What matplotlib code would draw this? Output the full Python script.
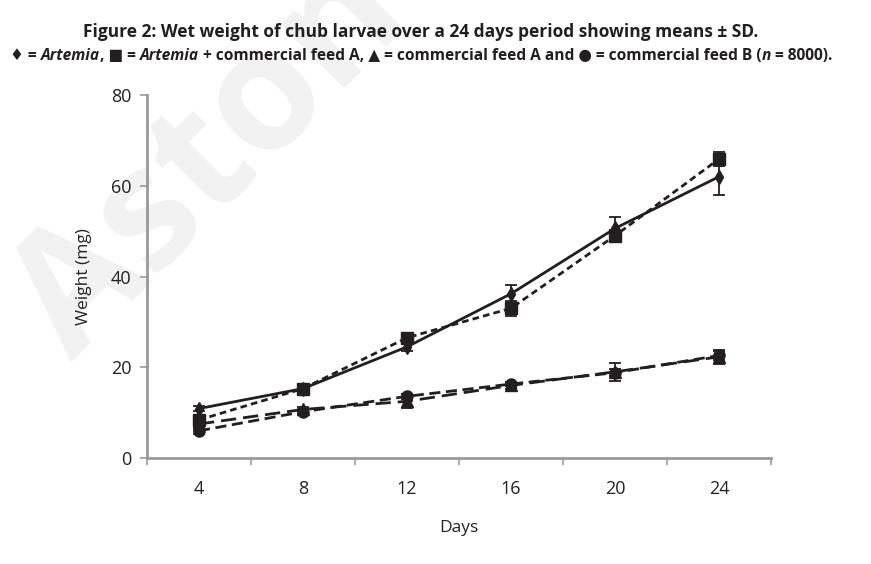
import matplotlib
matplotlib.use("Agg")
import matplotlib.pyplot as plt

days = ["4", "8", "12", "16", "20", "24"]
artemia = [10.9, 15.3, 24.5, 36.2, 50.6, 62.0]
artemia_sd = [0.5, 0.5, 1.0, 2.0, 2.6, 4.0]
artemia_a = [8.4, 15.3, 26.5, 33.0, 49.0, 65.9]
artemia_a_sd = [0.8, 0.5, 0.8, 1.6, 1.2, 1.5]
feed_a = [7.5, 10.7, 12.5, 16.0, 19.0, 22.3]
feed_a_sd = [0.8, 0.6, 1.5, 0.8, 2.0, 1.5]
feed_b = [6.0, 10.2, 13.6, 16.3, 18.8, 22.6]
feed_b_sd = [0.8, 0.5, 0.6, 0.5, 0.8, 1.0]
yticks = [0, 20, 40, 60, 80]

FAM = ["Open Sans", "DejaVu Sans"]
plt.rcParams["font.family"] = FAM

ink = "#231f20"
W, H = 871, 564
fig = plt.figure(figsize=(8.71, 5.64), dpi=100)

# watermark
fig.text(212 / W, 1 - 160 / H, "Aston", rotation=45, fontsize=120, fontweight="bold",
         color="#f2f2f2", ha="center", va="center", zorder=-10)

ax = fig.add_axes([0.1688, 0.1879, 0.8852 - 0.1688, 0.8316 - 0.1879])
ax.patch.set_alpha(0)
x = list(range(len(days)))

def series(y, sd, marker, ms, ls):
    ax.errorbar(x, y, yerr=sd, color=ink, marker=marker, ms=ms, lw=2.0,
                ls=ls, capsize=4, elinewidth=1.3, capthick=1.3, zorder=3)

series(artemia, artemia_sd, "d", 7, "-")
series(artemia_a, artemia_a_sd, "s", 8, (0, (2.4, 1.5)))
series(feed_a, feed_a_sd, "^", 8, (0, (5.5, 2.5)))
series(feed_b, feed_b_sd, "o", 8, (0, (4, 2)))

ax.set_xlim(-0.5, len(days) - 0.5)
ax.set_ylim(0, 80)
ax.set_yticks(yticks)
ax.set_yticklabels([str(v) for v in yticks])
ax.set_xticks(x)
ax.set_xticklabels(days)
ax.set_xticks([i - 0.5 for i in range(len(days) + 1)], minor=True)
ax.tick_params(axis="x", which="major", length=0, pad=16)
ax.tick_params(axis="x", which="minor", length=5, width=1.2, color="#999999")
ax.tick_params(axis="y", length=5, width=1.2, color="#999999", pad=6)
ax.tick_params(labelsize=13, labelcolor="#222222")
for s in ["top", "right"]:
    ax.spines[s].set_visible(False)
for s in ["left", "bottom"]:
    ax.spines[s].set_color("#999999")
    ax.spines[s].set_linewidth(2)
ax.set_xlabel("Days", fontsize=12.5, color="#222222", labelpad=16)
ax.set_ylabel("Weight (mg)", fontsize=12.5, color="#222222", labelpad=14)

fig.text(421 / W, 1 - 32 / H, "Figure 2: Wet weight of chub larvae over a 24 days period showing means \u00b1 SD.",
         ha="center", va="center", fontsize=12.5, fontweight="bold", color=ink)

pieces = [("\u2666 = ", "normal"), ("Artemia", "italic"), (", \u25a0 = ", "normal"),
          ("Artemia", "italic"), (" + commercial feed A, \u25b2 = commercial feed A and \u25cf = commercial feed B (", "normal"),
          ("n", "italic"), (" = 8000).", "normal")]
y2 = 1 - 56 / H
texts = []
for s, st in pieces:
    t = fig.text(0.0, y2, s, fontsize=11.2, fontweight="bold", style=st,
                 color=ink, ha="left", va="center")
    texts.append(t)

fig.canvas.draw()
r = fig.canvas.get_renderer()
widths = [t.get_window_extent(r).width for t in texts]
total = sum(widths)
cur = 421.5 - total / 2
for t, w in zip(texts, widths):
    t.set_position((cur / W, y2))
    cur += w

fig.savefig("out.png", dpi=100)
